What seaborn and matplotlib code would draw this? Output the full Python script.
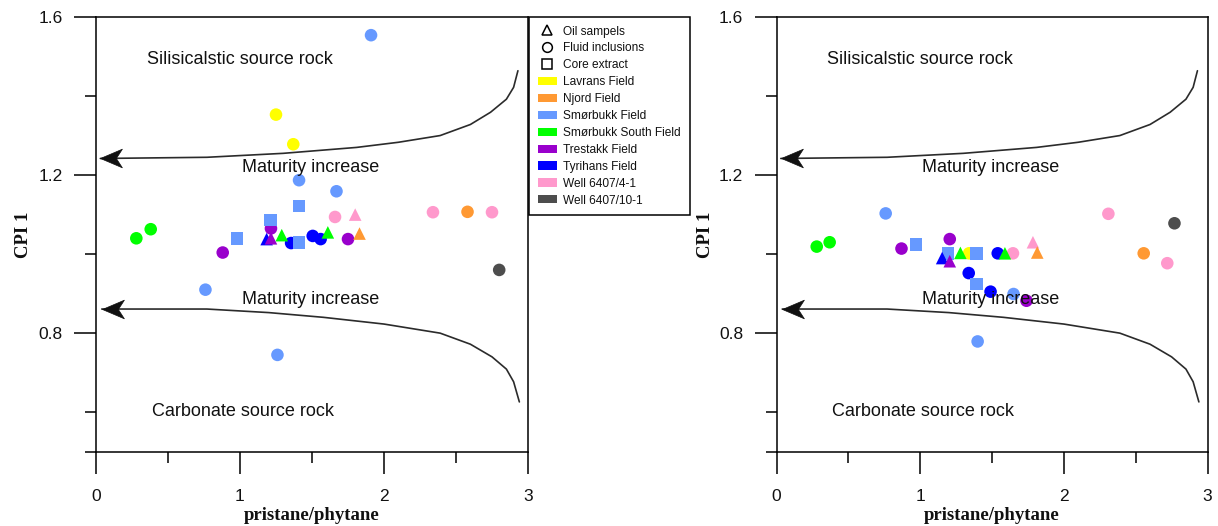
import matplotlib
matplotlib.use("Agg")
import matplotlib.pyplot as plt
import seaborn as sns
import pandas as pd
from matplotlib.lines import Line2D
from matplotlib.patches import Patch
from matplotlib.path import Path
from matplotlib.ticker import FixedLocator

sns.set_theme(style="white")
plt.rcParams["font.family"] = ["Liberation Sans", "DejaVu Sans"]

# ---- fields, colours and sample types ----
fields = ["Lavrans Field", "Njord Field", "Smørbukk Field", "Smørbukk South Field",
          "Trestakk Field", "Tyrihans Field", "Well 6407/4-1", "Well 6407/10-1"]
field_colors = ["#FFFF00", "#FF9933", "#6699FF", "#00FF00",
                "#9900CC", "#0000FF", "#FF99CC", "#4D4D4D"]
kinds = ["Oil sampels", "Fluid inclusions", "Core extract"]
kind_markers = ["^", "o", "s"]

LAV, NJO, SMO, SMS, TRE, TYR, W41, W101 = fields
OIL, FLU, CORE = kinds

# ---- left diagram: pristane/phytane vs CPI 1 ----
left_field = [SMO, SMO, SMO, SMO, SMO,
              LAV, LAV,
              W41, W41, W41, NJO,
              SMS, SMS,
              TRE, TRE, TRE,
              TYR, TYR, TYR,
              W101,
              SMO, SMO, SMO, SMO,
              W41, NJO, TYR, TRE, SMS, SMS]
left_kind = [FLU] * 20 + [CORE] * 4 + [OIL] * 6
left_prph = [1.91, 1.41, 1.67, 0.76, 1.26,
             1.25, 1.37,
             1.66, 2.34, 2.75, 2.58,
             0.28, 0.38,
             0.88, 1.215, 1.75,
             1.355, 1.505, 1.56,
             2.80,
             1.41, 1.21, 0.98, 1.41,
             1.80, 1.83, 1.185, 1.215, 1.29, 1.61]
left_cpi = [1.554, 1.187, 1.159, 0.910, 0.745,
            1.353, 1.278,
            1.094, 1.106, 1.106, 1.107,
            1.040, 1.063,
            1.004, 1.065, 1.038,
            1.028, 1.046, 1.038,
            0.960,
            1.122, 1.086, 1.040, 1.030,
            1.100, 1.052, 1.038, 1.040, 1.048, 1.055]

# ---- right diagram ----
right_field = [SMO, SMO, SMO,
               W41, W41, W41,
               W101,
               SMS, SMS,
               TRE, TRE, TRE,
               LAV,
               TYR, TYR, TYR,
               NJO,
               SMO, SMO, SMO, SMO,
               TYR, TRE, SMS, SMS, W41, NJO]
right_kind = [FLU] * 17 + [CORE] * 4 + [OIL] * 6
right_prph = [0.76, 1.65, 1.40,
              2.31, 1.646, 2.72,
              2.77,
              0.28, 0.37,
              0.87, 1.206, 1.74,
              1.34,
              1.54, 1.338, 1.49,
              2.556,
              0.97, 1.194, 1.394, 1.394,
              1.153, 1.206, 1.28, 1.59, 1.785, 1.815]
right_cpi = [1.103, 0.899, 0.779,
             1.102, 1.002, 0.977,
             1.078,
             1.019, 1.030,
             1.014, 1.038, 0.882,
             1.002,
             1.002, 0.952, 0.905,
             1.002,
             1.025, 1.002, 1.002, 0.924,
             0.990, 0.982, 1.003, 1.002, 1.030, 1.004]

# ---- maturity guide curves (x = pristane/phytane, y = CPI 1) ----
upper_curve_x = [0.03, 0.77, 1.30, 1.81, 2.10, 2.39, 2.60, 2.74, 2.85, 2.90, 2.93]
upper_curve_y = [1.242, 1.245, 1.255, 1.270, 1.283, 1.300, 1.328, 1.359, 1.392, 1.422, 1.464]
lower_curve_x = [0.04, 0.77, 1.20, 1.58, 2.00, 2.39, 2.60, 2.75, 2.85, 2.90, 2.94]
lower_curve_y = [0.861, 0.861, 0.852, 0.840, 0.823, 0.800, 0.772, 0.740, 0.709, 0.677, 0.626]

palette = dict(zip(fields, field_colors))
markers = dict(zip(kinds, kind_markers))

# notched arrow head, tip at the origin, pointing left
arrow_head = Path([(0, 0), (2, 0.85), (1.45, 0), (2, -0.85), (0, 0)],
                  [Path.MOVETO, Path.LINETO, Path.LINETO, Path.LINETO, Path.CLOSEPOLY])

fig = plt.figure(figsize=(12.18, 5.26), dpi=100)
W, H = 1218, 526
ax_left = fig.add_axes([96 / W, 1 - 451.7 / H, 432 / W, 434.7 / H])
ax_right = fig.add_axes([776.5 / W, 1 - 451.7 / H, 431 / W, 434.7 / H])


def draw_panel(ax, prph, cpi, field, kind, ylabel_x):
    df = pd.DataFrame({"pristane/phytane": prph, "CPI 1": cpi,
                       "field": field, "kind": kind})
    for cx, cy in ((upper_curve_x, upper_curve_y), (lower_curve_x, lower_curve_y)):
        ax.plot(cx, cy, color="#2b2b2b", lw=1.2, zorder=2, solid_capstyle="round")
        ax.plot([cx[0]], [cy[0]], marker=arrow_head, ms=31.5, color="#111111",
                mec="#111111", mew=0.5, ls="", zorder=3)
    sns.scatterplot(data=df, x="pristane/phytane", y="CPI 1", hue="field", style="kind",
                    palette=palette, markers=markers, s=82, linewidth=0,
                    legend=False, ax=ax, zorder=4)

    txt = dict(fontsize=13, color="#111111", ha="center", va="center", zorder=5)
    ax.text(1.0, 1.493, "Silisicalstic source rock", **txt)
    ax.text(1.49, 1.219, "Maturity increase", **txt)
    ax.text(1.49, 0.884, "Maturity increase", **txt)
    ax.text(1.02, 0.602, "Carbonate source rock", **txt)

    ax.set_xlim(0, 3)
    ax.set_ylim(0.5, 1.6)
    ax.xaxis.set_major_locator(FixedLocator([0, 1, 2, 3]))
    ax.xaxis.set_minor_locator(FixedLocator([0.5, 1.5, 2.5]))
    ax.yaxis.set_major_locator(FixedLocator([0.8, 1.2, 1.6]))
    ax.yaxis.set_minor_locator(FixedLocator([0.5, 0.6, 1.0, 1.4]))
    ax.set_xticklabels(["0", "1", "2", "3"])
    ax.set_yticklabels(["0.8", "1.2", "1.6"])
    ax.tick_params(which="major", direction="out", length=16, width=1.1,
                   color="black", labelsize=12.5, labelcolor="#111111")
    ax.tick_params(axis="x", which="major", pad=11)
    ax.tick_params(axis="y", which="major", pad=8)
    ax.tick_params(which="minor", direction="out", length=8, width=1.1, color="black")
    ax.tick_params(bottom=True, left=True, which="both")
    for sp in ax.spines.values():
        sp.set_visible(True)
        sp.set_color("black")
        sp.set_linewidth(1.1)

    lab = dict(family=["Liberation Serif", "DejaVu Serif"], fontweight="bold",
               fontsize=13.5, color="#111111")
    ax.set_xlabel("pristane/phytane", labelpad=2, **lab)
    ax.set_ylabel("CPI 1", **lab)
    ax.yaxis.set_label_coords(ylabel_x, 0.5)
    ax.set_facecolor("white")


draw_panel(ax_left, left_prph, left_cpi, left_field, left_kind, -0.147)
draw_panel(ax_right, right_prph, right_cpi, right_field, right_kind, -0.144)

# ---- shared legend ----
handles = [Line2D([], [], ls="", marker=m, mfc="none", mec="black", ms=7, mew=1.1)
           for m in kind_markers]
handles += [Patch(facecolor=c, edgecolor="none") for c in field_colors]
labels = kinds + fields
leg = fig.legend(handles, labels, loc="upper left",
                 bbox_to_anchor=(529 / W, 1 - 17 / H), borderaxespad=0,
                 fontsize=8.6, frameon=True, fancybox=False, framealpha=1,
                 edgecolor="black", handlelength=1.6, handleheight=0.68,
                 handletextpad=0.55, labelspacing=0.41, borderpad=0.72)
leg.get_frame().set_linewidth(1.1)
for t in leg.get_texts():
    t.set_color("#111111")

fig.savefig("out.png", dpi=100, facecolor="white")
